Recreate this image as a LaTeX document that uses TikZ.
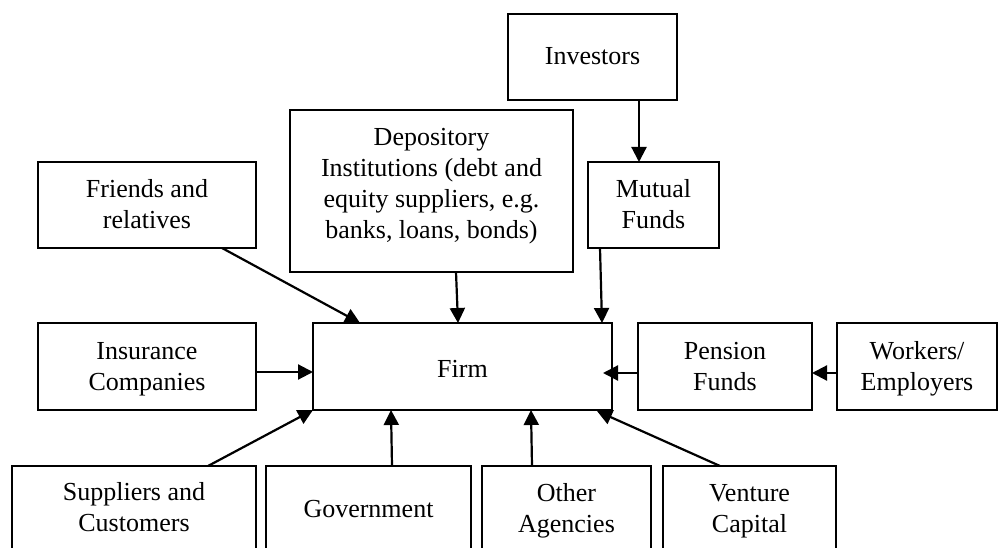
\documentclass[tikz,border=0pt]{standalone}
\usepackage{fontspec}
\setmainfont{Liberation Serif}
\usetikzlibrary{arrows.meta}
\tikzset{
  x=1pt, y=1pt,
  box/.style={draw, line width=2.2pt, rectangle, inner sep=0pt, outer sep=0pt},
  txt/.style={anchor=north, inner sep=0pt, align=center,
    font=\fontsize{26}{31}\selectfont},
  arr/.style={line width=2.2pt, -{Triangle[length=15pt,width=15pt]}}
}
\begin{document}
\begin{tikzpicture}
\useasboundingbox (0,0) rectangle (998,-548);
\clip (0,0) rectangle (998,-548);
% boxes
\node[box, minimum width=169pt, minimum height=86pt] (inv) at (592.5,-57) {};
\node[box, minimum width=131pt, minimum height=86pt] (mut) at (653.5,-205) {};
\node[box, minimum width=283pt, minimum height=162pt] (dep) at (431.5,-191) {};
\node[box, minimum width=218pt, minimum height=86pt] (fri) at (147,-205) {};
\node[box, minimum width=218pt, minimum height=87pt] (ins) at (147,-366.5) {};
\node[box, minimum width=299pt, minimum height=87pt] (firm) at (462.5,-366.5) {};
\node[box, minimum width=174pt, minimum height=87pt] (pen) at (725,-366.5) {};
\node[box, minimum width=160pt, minimum height=87pt] (wor) at (917,-366.5) {};
\node[box, minimum width=244pt, minimum height=86pt] (sup) at (134,-509) {};
\node[box, minimum width=205pt, minimum height=86pt] (gov) at (368.5,-509) {};
\node[box, minimum width=169pt, minimum height=86pt] (oth) at (566.5,-509) {};
\node[box, minimum width=173pt, minimum height=86pt] (ven) at (749.5,-509) {};
% texts
\node[txt] (invt) at ([yshift=-28.3pt]inv.north) {\strut Investors};
\node[txt] (mutt) at ([yshift=-13.3pt]mut.north) {\strut Mutual\\Funds};
\node[txt] (dept) at ([yshift=-13.3pt]dep.north) {\strut Depository\\Institutions (debt and\\equity suppliers, e.g.\\banks, loans, bonds)};
\node[txt] (frit) at ([yshift=-13.3pt]fri.north) {\strut Friends and\\relatives};
\node[txt] (inst) at ([yshift=-14.3pt]ins.north) {\strut Insurance\\Companies};
\node[txt] (firmt) at ([yshift=-32.3pt]firm.north) {\strut Firm};
\node[txt] (pent) at ([yshift=-14.3pt]pen.north) {\strut Pension\\Funds};
\node[txt] (wort) at ([yshift=-14.3pt]wor.north) {\strut Workers/\\Employers};
\node[txt] (supt) at ([yshift=-12.3pt]sup.north) {\strut Suppliers and\\Customers};
\node[txt] (govt) at ([yshift=-29.3pt]gov.north) {\strut Government};
\node[txt] (otht) at ([yshift=-13.3pt]oth.north) {\strut Other\\Agencies};
\node[txt] (vent) at ([yshift=-13.3pt]ven.north) {\strut Venture\\Capital};
% arrows
\draw[arr] ([xshift=46.5pt]inv.south) -- ([xshift=-14.5pt]mut.north);
\draw[arr] ([xshift=75pt]fri.south) -- ([xshift=-102.5pt]firm.north);
\draw[arr] ([xshift=24.5pt]dep.south) -- ([xshift=-4.5pt]firm.north);
\draw[arr] ([xshift=-53.5pt]mut.south) -- ([xshift=139.5pt]firm.north);
\draw[arr] ([yshift=-5.5pt]ins.east) -- ([yshift=-5.5pt]firm.west);
\draw[arr] ([yshift=-6.5pt]pen.west) -- ([xshift=-9pt,yshift=-6.5pt]firm.east);
\draw[arr] ([yshift=-6.5pt]wor.west) -- ([yshift=-6.5pt]pen.east);
\draw[arr] ([xshift=74pt]sup.north) -- (firm.south west);
\draw[arr] ([xshift=23.5pt]gov.north) -- ([xshift=-71.5pt]firm.south);
\draw[arr] ([xshift=-34.5pt]oth.north) -- ([xshift=68.5pt]firm.south);
\draw[arr] ([xshift=-29.5pt]ven.north) -- ([xshift=134.5pt,yshift=-1pt]firm.south);
\end{tikzpicture}
\end{document}
